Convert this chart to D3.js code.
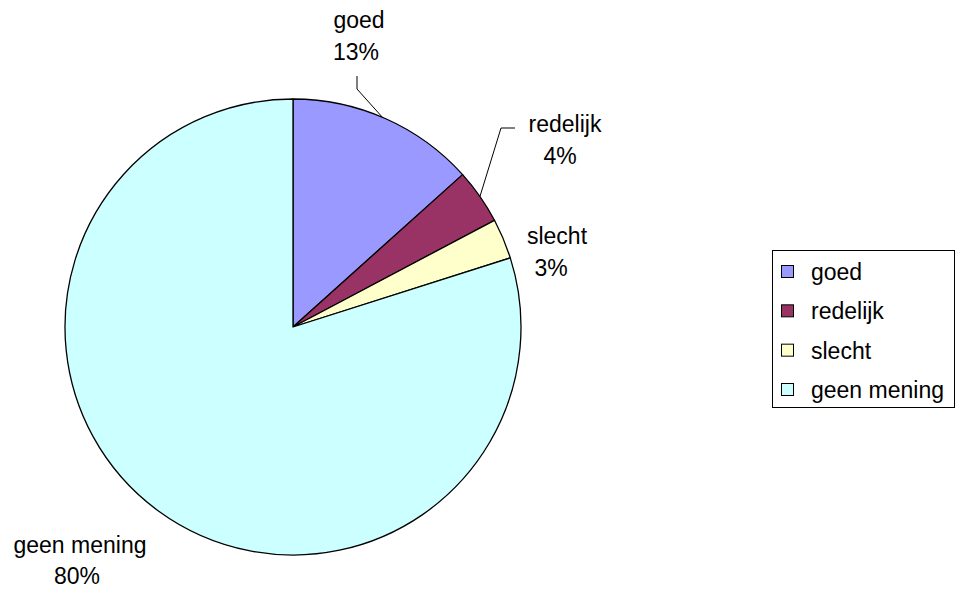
<!DOCTYPE html>
<html><head><meta charset="utf-8">
<script src="https://cdn.jsdelivr.net/npm/d3@7/dist/d3.min.js"></script>
<style>body{margin:0;background:#fff}svg{display:block}text{font-family:"Liberation Sans",Arial,sans-serif;fill:#000}</style>
</head><body><svg id="c" width="958" height="590"></svg>
<script>
const categories = ["goed", "redelijk", "slecht", "geen mening"];
const values = [13.35, 3.9, 2.85, 79.9];
const percentLabels = ["13%", "4%", "3%", "80%"];
const colors = ["#9999FF", "#993366", "#FFFFCC", "#CCFFFF"];

const svg = d3.select("#c");
const cx = 293, cy = 327, r = 228;
const fs = 23;
const pie = d3.pie().sort(null).value(d => d)(values);
const arc = d3.arc().innerRadius(0).outerRadius(r);
const g = svg.append("g").attr("transform", `translate(${cx},${cy})`);
g.selectAll("path").data(pie).enter().append("path")
  .attr("d", arc).attr("fill", (d, i) => colors[i])
  .attr("stroke", "#000").attr("stroke-width", 1.3).attr("stroke-linejoin", "round");

// label placement: [x name, y name, x pct, y pct]
const labelPos = [[359, 28, 356, 60], [565, 132, 560, 164], [557, 244, 551, 276], [80, 553, 77, 584]];
categories.forEach((c, i) => {
  const [x1, y1, x2, y2] = labelPos[i];
  svg.append("text").attr("x", x1).attr("y", y1).attr("text-anchor", "middle").attr("font-size", fs).text(c);
  svg.append("text").attr("x", x2).attr("y", y2).attr("text-anchor", "middle").attr("font-size", fs).text(percentLabels[i]);
});
function edge(a) { return [cx + r * Math.sin(a), cy - r * Math.cos(a)]; }
const aG = pie[0].startAngle + (pie[0].endAngle - pie[0].startAngle) * 0.48;
const eG = edge(aG);
svg.append("path").attr("fill", "none").attr("stroke", "#000").attr("stroke-width", 1)
  .attr("d", `M357,76 L357,89 L${eG[0]},${eG[1]}`);
const aR = (pie[1].startAngle + pie[1].endAngle) / 2;
const eR = edge(aR);
svg.append("path").attr("fill", "none").attr("stroke", "#000").attr("stroke-width", 1)
  .attr("d", `M515,128 L501,128 L${eR[0]},${eR[1]}`);

// legend
const lg = svg.append("g");
lg.append("rect").attr("x", 772.5).attr("y", 250.5).attr("width", 182).attr("height", 157)
  .attr("fill", "#fff").attr("stroke", "#000").attr("stroke-width", 1);
const ly = d3.scalePoint().domain(categories).range([272, 390]);
categories.forEach((c, i) => {
  lg.append("rect").attr("x", 781.5).attr("y", ly(c) - 6.5).attr("width", 12).attr("height", 12)
    .attr("fill", colors[i]).attr("stroke", "#000").attr("stroke-width", 1);
  lg.append("text").attr("x", 811).attr("y", ly(c) + 8).attr("font-size", fs).text(c);
});
</script></body></html>
